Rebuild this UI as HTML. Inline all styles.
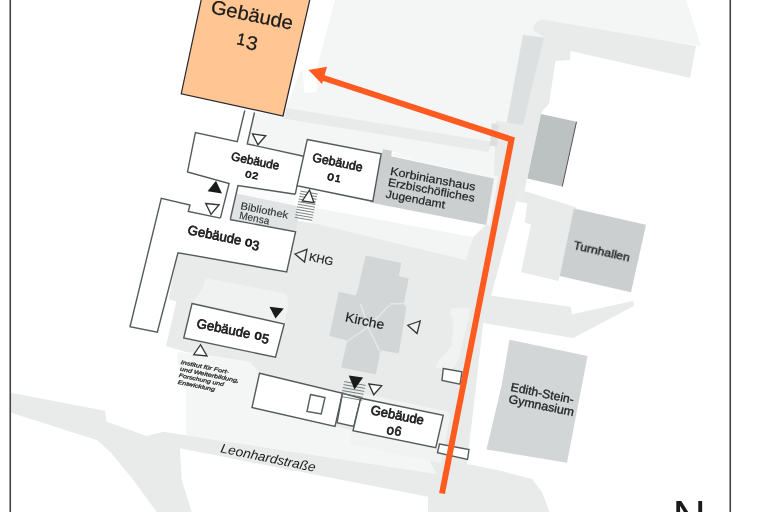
<!DOCTYPE html>
<html lang="de">
<head>
<meta charset="utf-8">
<title>Lageplan Gebäude 13</title>
<style>
html,body{margin:0;padding:0;background:#fff;}
body{width:768px;height:512px;overflow:hidden;}
svg{display:block;}
text{font-family:"Liberation Sans","DejaVu Sans",sans-serif;fill:#1a1a1a;}
.b{font-weight:bold;}
.w{fill:#fff;stroke:#545b5b;stroke-width:1.4;stroke-linejoin:miter;}
.l{fill:none;stroke:#545b5b;stroke-width:1.4;}
.g1{fill:#f4f5f5;}
.g2{fill:#e9ebeb;}
.g3{fill:#cbcfcf;}
.g4{fill:#bcc1c1;}
.tri{fill:#fff;stroke:#333;stroke-width:1.3;stroke-linejoin:miter;}
.trif{fill:#1a1a1a;stroke:none;}
.st{fill:none;stroke:#6a7070;stroke-width:0.9;}
</style>
</head>
<body>
<svg width="768" height="512" viewBox="0 0 768 512">
<rect x="0" y="0" width="768" height="512" fill="#fff"/>

<!-- ===== very light ground ===== -->
<g id="ground1" class="g1">
<!-- upper region -->
<polygon points="335,0 686,0 701,46 560,25 545,60 530,139 514,139 494,178.6 383,149 381,154 307,140 303.7,156 247,144 254.5,112.5 283,115.5 300,72 317,67"/>
<!-- Institut area and strip above road -->
<path d="M180,352 L250,362 L259.5,373.25 L252,407.5 L335,426.5 L353,430.75 L435.75,447.75 L439,460 L437,474 L186,435 L186,390 L177,360 Q176,352 180,352 Z"/>
</g>

<!-- ===== light ground ===== -->
<g id="ground2" class="g2">
<!-- top right L path -->
<path d="M543,19.5 L696,46 L690,78 L570.5,51 L570,60 L555.5,61 L549,104 L543,110 L541,114 L527,178 L524.75,191 L516.5,201 L491.3,295 L483.25,323 L467,464 L437,474 L430,462 L466,262 L473,237 L486,225 L493.9,178.6 L496,121 L506.75,122.5 L523,125 L544.25,37.5 L533,30 Q534,20 543,19.5 Z"/>
<!-- band below Geb13 -->
<polygon points="286.5,108 493,142 488,152 283.5,118.5"/>
<polygon points="491.7,123.3 498.5,124.5 497,146.7 490,145.5" fill="#dcdfdf"/>
<!-- courtyard -->
<polygon points="178,252.7 286.7,272 295.6,231.7 297,221 488,247 441,462 435.75,447.75 353,430.75 335,426.5 252,407.5 259.5,373.25 250,362 186,352 166,346 176.5,301.5 168.7,299.3 177,256"/>
<path d="M356,392 L446,411 Q450.500,412 450,417 L441,463 L350,444 Z" fill="#f1f2f2"/>
<!-- v-light band below Korbinianshaus -->
<polygon points="313.3,207.5 472.7,237 466.3,260.3 311.7,222.7" fill="#f3f4f4"/>
<!-- rounded lighter rect in courtyard -->
<path d="M208,278.5 L283,293 Q287,294 287.5,298 L288,306 L284,324 L192,303.5 L203,288 Q204.500,278 208,278.5 Z" fill="#f0f1f1"/>
<!-- blob right of Kirche -->
<path d="M451.6,308.3 L470,308.3 L468.8,318 L462.4,343.8 L458,361 L451.6,370.6 L435.5,367.4 L438.7,361 L451.6,346 L453.8,320 L449.5,313.7 Z" fill="#f1f2f2"/>
<!-- left of Turnhallen -->
<polygon points="524.75,191 576,207.25 558.5,281 521,272.25 531,224.75 524.75,222.25 527.25,203.5 516.5,201.3"/>
<!-- path toward Gymnasium -->
<polygon points="490.75,295.5 570.75,306.75 572,314.25 633,301 634,306 573.25,338 483.25,323"/>
<!-- Leonhardstrasse -->
<polygon points="11,392.7 105,410.7 106.7,421.7 146.7,436 163.3,431.7 437,474 441,462 467,464 500,470.500 532,479 542,492 549.5,512 428,512 428,496.7 180,448.3 181.7,480 191.7,512 156.7,512 133.3,480 110,451.7 96.7,440 11,412.7"/>
</g>

<!-- ===== gray buildings ===== -->
<polygon points="303,72 311,70.5 317,78 316.5,92 304,93" fill="#fff"/>
<g id="gray" class="g3">
<polygon points="523,35 544.25,37.5 523,125 506.75,122.5" fill="#dde0e0"/>
<polyline points="393,154 496.3,177.3 488.3,225.5" fill="none" stroke="#f5f6f6" stroke-width="3.2" stroke-linejoin="round"/>
<polygon points="383,149.25 391.75,150.8 391.3,156.3 493.9,178.6 486,225 370,202.6"/>
<polygon points="541,114 576.5,121.75 562.25,186.5 527.25,178.5" class="g4"/>
<line x1="576.5" y1="121.75" x2="562.25" y2="186.5" stroke="#555" stroke-width="1"/>
<polygon points="574,208.5 646,224.75 631,292.25 559.75,276"/>
<polygon points="509.5,339.75 587.5,356 567,462.75 486.5,449.5 501.5,386" fill="#d2d6d6"/>
<!-- Kirche -->
<g fill="#d2d6d6">
<polygon points="365.6,255.5 401.25,263 398.75,276.1 408.75,278.6 403.75,303.6 406.25,308.2 398.75,353.4 381.25,350.25 379.4,354 379.4,357.75 375.6,374.4 341.25,367.5 346.9,342.3 346.25,340.25 329.4,335.9 338.75,291.75 355.6,295.5 358.1,288.6"/>
<path d="M360.6,304 L368.1,327.1 L380,351.5 M389,305.5 L368.1,327.1 L346.9,341.5 M403.75,303.6 L390,304" stroke="#e6e8e8" stroke-width="1.5" fill="none"/>
</g>
<!-- Bibliothek box -->
<polygon points="238,185.6 295.3,194.2 295.6,231.7 230.4,218.75" fill="#fbfbfb"/>
<polygon points="236.3,193.5 297,206 298,222 295.6,231.7 230.4,218.75" fill="#e1e4e4"/>
</g>

<!-- ===== white buildings ===== -->
<g id="white">
<!-- Geb 02 -->
<polygon points="229.1,183.5 187.5,171.9 195.4,132.6 237.25,141.75 244.8,110.5 254.5,112.5 247.25,143.9 303.7,156.2 295.3,194.2 238,185.6" fill="#fff"/>
<polyline class="l" points="220.4,218.1 229.1,183.5 187.5,171.9 195.4,132.6 237.25,141.75 244.8,110.5"/>
<polyline class="l" points="254.5,112.5 247.25,143.9 303.7,156.2"/>
<polyline class="l" points="295.3,194.2 238,185.6 230.4,218.75"/>
<!-- Geb 03 -->
<polygon points="220.4,218.1 188.3,211.5 190,205 161.3,198.3 130,326.8 157.3,332.3 178,252.7 286.7,272 295.6,231.7 229.8,219.5" fill="#fff"/>
<polyline class="l" points="220.4,218.1 188.3,211.5 190,205 161.3,198.3 130,326.8 157.3,332.3 178,252.7 286.7,272 295.6,231.7 229.8,219.5"/>
<!-- Geb 01 -->
<polygon class="w" points="307.3,139.5 381.2,153.7 372.8,201.3 297,185.8"/>
<line class="l" x1="297" y1="185.8" x2="295.3" y2="194.2"/>
<!-- Geb 05 -->
<polygon class="w" points="192,303.5 284.25,324 275.5,357.25 183.75,338"/>
<!-- long building -->
<polygon class="w" points="259.5,373.25 342.5,393.25 335,426.5 252,407.5"/>
<polygon class="w" points="310.5,394.5 325,397.5 321.25,414 307,411.5"/>
<polygon class="w" points="342.5,393.25 360.75,398.25 353.75,426.5 337,422.75"/>
<!-- Geb 06 -->
<polygon class="w" points="360.75,398.25 443.25,415.25 435.75,447.75 353,430.75"/>
<!-- small rects -->
<polygon class="w" points="443.25,368.5 462,371.75 460,384.25 442,380.5"/>
<polygon class="w" points="439.5,444 469,449.5 467.5,459.5 437.5,452.75"/>
</g>

<!-- ===== Gebäude 13 ===== -->
<polygon points="201.4,-1 310,-1 283,116 181.25,93.75" fill="#ffc592" stroke="#26262e" stroke-width="1.2"/>

<!-- ===== route ===== -->
<g id="route">
<polyline points="442,493.5 511.5,139.5 322,77.5" fill="none" stroke="#ff5a1f" stroke-width="6" stroke-linejoin="miter"/>
<polygon points="308.5,70 327,66.8 322,84" fill="#ff5a1f"/>
</g>

<!-- ===== symbols ===== -->
<g id="sym">
<path class="st" d="M300.4,191.1L317.7,194.1M299.8,193.7L317.1,196.7M299.3,196.3L316.6,199.3M298.7,199.0L316.0,202.0M298.2,201.6L315.5,204.6M297.6,204.2L314.9,207.2M297.0,206.8L314.3,209.8M296.5,209.4L313.8,212.4M295.9,212.1L313.2,215.1M295.4,214.7L312.7,217.7M294.8,217.3L312.1,220.3"/>
<path class="st" d="M344.2,381.6L365.6,385.4M343.5,384.6L364.9,388.4M342.8,387.6L364.2,391.4M342.2,390.5L363.6,394.3M341.5,393.5L362.9,397.3M340.8,396.5L362.2,400.3"/>
<polygon class="tri" points="252.5,133.9 265.75,135.75 257.9,144.75"/>
<polygon class="trif" points="216,180.8 207.6,191.2 222,193.6"/>
<polygon class="tri" points="205.75,203.5 219.1,204.75 211,214.4"/>
<polygon class="tri" points="309.5,190.1 302.3,200.9 314,202.7"/>
<polygon class="tri" style="fill:#eff0f0" points="295,254 307,249.3 304.5,262"/>
<polygon class="trif" points="269.5,306.75 283.75,308.5 275.5,318.5"/>
<polygon class="tri" points="200.5,344.75 193.75,354.75 207,356"/>
<polygon class="tri" style="fill:#eff0f0" points="407.75,325.25 420.25,321 417,333.5"/>
<polygon class="trif" points="348.75,375.6 363.1,377.5 354.4,389.6"/>
<polygon class="tri" points="368.9,384 381.7,385.7 373.75,394.8"/>
</g>

<!-- ===== labels ===== -->
<g id="labels" style="opacity:0.999">
<text transform="translate(209.9,12.9) rotate(11.7)" fill="#1a1a1a" stroke="#1a1a1a"><tspan x="0.0" y="0.0" font-size="19.5" stroke-width="0.23" textLength="83.5" lengthAdjust="spacingAndGlyphs">Gebäude</tspan> <tspan x="31.8" y="25.1" font-size="16.5" stroke-width="0.49" textLength="8.5" lengthAdjust="spacingAndGlyphs">1</tspan><tspan x="41.6" y="27.7" font-size="19.5" stroke-width="0.23" textLength="11.5" lengthAdjust="spacingAndGlyphs">3</tspan></text>
<text transform="translate(230.6,160.0) rotate(11.7)" fill="#1a1a1a" stroke="#1a1a1a"><tspan x="0.0" y="0.0" font-size="12" stroke-width="0.60" textLength="49.0" lengthAdjust="spacingAndGlyphs">Gebäude</tspan> <tspan x="17.2" y="13.8" font-size="9.3" stroke-width="0.65" textLength="6.2" lengthAdjust="spacingAndGlyphs">0</tspan><tspan x="24.1" y="13.7" font-size="9.3" stroke-width="0.65" textLength="6.2" lengthAdjust="spacingAndGlyphs">2</tspan></text>
<text transform="translate(311.7,161.2) rotate(11.7)" fill="#1a1a1a" stroke="#1a1a1a"><tspan x="0.0" y="0.0" font-size="12.5" stroke-width="0.62" textLength="51.0" lengthAdjust="spacingAndGlyphs">Gebäude</tspan> <tspan x="18.6" y="15.0" font-size="10" stroke-width="0.70" textLength="6.5" lengthAdjust="spacingAndGlyphs">0</tspan><tspan x="26.3" y="15.0" font-size="10" stroke-width="0.70" textLength="5.5" lengthAdjust="spacingAndGlyphs">1</tspan></text>
<text transform="translate(187.1,233.9) rotate(11.7)" fill="#1a1a1a" stroke="#1a1a1a"><tspan x="0.0" y="0.0" font-size="13.3" stroke-width="0.67" textLength="54.5" lengthAdjust="spacingAndGlyphs">Gebäude</tspan> <tspan x="58.6" y="-0.2" font-size="10.4" stroke-width="0.83" textLength="7.0" lengthAdjust="spacingAndGlyphs">0</tspan><tspan x="65.9" y="1.9" font-size="13.3" stroke-width="0.67" textLength="7.2" lengthAdjust="spacingAndGlyphs">3</tspan></text>
<text transform="translate(196.1,327.5) rotate(11.7)" fill="#1a1a1a" stroke="#1a1a1a"><tspan x="0.0" y="0.0" font-size="13.3" stroke-width="0.67" textLength="54.5" lengthAdjust="spacingAndGlyphs">Gebäude</tspan> <tspan x="59.0" y="-0.7" font-size="10.4" stroke-width="0.83" textLength="7.0" lengthAdjust="spacingAndGlyphs">0</tspan><tspan x="66.5" y="1.5" font-size="13.3" stroke-width="0.67" textLength="7.2" lengthAdjust="spacingAndGlyphs">5</tspan></text>
<text transform="translate(370.1,413.9) rotate(11.7)" fill="#1a1a1a" stroke="#1a1a1a"><tspan x="0.0" y="0.0" font-size="13.2" stroke-width="0.66" textLength="54.0" lengthAdjust="spacingAndGlyphs">Gebäude</tspan> <tspan x="19.7" y="16.3" font-size="10.8" stroke-width="0.65" textLength="7.2" lengthAdjust="spacingAndGlyphs">0</tspan><tspan x="27.3" y="15.7" font-size="13" stroke-width="0.65" textLength="7.0" lengthAdjust="spacingAndGlyphs">6</tspan></text>
<text transform="translate(240.0,208.9) rotate(11.7)" font-size="10.3" fill="#6d7272" stroke="#6d7272" stroke-width="0.21" textLength="48.5" lengthAdjust="spacingAndGlyphs">Bibliothek</text>
<text transform="translate(238.8,218.4) rotate(11.7)" font-size="10.3" fill="#6d7272" stroke="#6d7272" stroke-width="0.21" textLength="30.5" lengthAdjust="spacingAndGlyphs">Mensa</text>
<text transform="translate(308.4,260.5) rotate(11.7)" font-size="11.3" fill="#333" stroke="#333" stroke-width="0.23" textLength="24.5" lengthAdjust="spacingAndGlyphs">KHG</text>
<text transform="translate(344.6,321.3) rotate(11.7)" font-size="13.3" fill="#333" stroke="#333" stroke-width="0.20" textLength="39.5" lengthAdjust="spacingAndGlyphs">Kirche</text>
<text transform="translate(389.7,174.8) rotate(10.6)" font-size="11.2" fill="#333" stroke="#333" stroke-width="0.22" textLength="86.5" lengthAdjust="spacingAndGlyphs">Korbinianshaus</text>
<text transform="translate(387.4,185.7) rotate(10.6)" font-size="11.2" fill="#333" stroke="#333" stroke-width="0.22" textLength="88.0" lengthAdjust="spacingAndGlyphs">Erzbischöfliches</text>
<text transform="translate(385.3,197.5) rotate(10.6)" font-size="11.2" fill="#333" stroke="#333" stroke-width="0.22" textLength="60.0" lengthAdjust="spacingAndGlyphs">Jugendamt</text>
<text transform="translate(572.9,248.8) rotate(12.8)" font-size="11.8" fill="#222" stroke="#222" stroke-width="0.35" textLength="57.5" lengthAdjust="spacingAndGlyphs">Turnhallen</text>
<text transform="translate(510.1,390.7) rotate(11.7)" font-size="12" fill="#333" stroke="#333" stroke-width="0.36" textLength="64.3" lengthAdjust="spacingAndGlyphs">Edith-Stein-</text>
<text transform="translate(508.1,402.7) rotate(11.7)" font-size="12" fill="#333" stroke="#333" stroke-width="0.36" textLength="66.5" lengthAdjust="spacingAndGlyphs">Gymnasium</text>
<text transform="translate(220.1,452.3) rotate(11.7)" font-size="13" fill="#333" font-style="italic" textLength="96.5" lengthAdjust="spacingAndGlyphs">Leonhardstraße</text>
<text transform="translate(180.5,363.9) rotate(11.7)" font-size="5.6" fill="#333" stroke="#333" stroke-width="0.28" font-style="italic" textLength="49.0" lengthAdjust="spacingAndGlyphs">Institut für Fort-</text>
<text transform="translate(179.8,370.6) rotate(11.7)" font-size="5.6" fill="#333" stroke="#333" stroke-width="0.28" font-style="italic" textLength="60.0" lengthAdjust="spacingAndGlyphs">und Weiterbildung,</text>
<text transform="translate(178.6,377.0) rotate(11.7)" font-size="5.6" fill="#333" stroke="#333" stroke-width="0.28" font-style="italic" textLength="46.0" lengthAdjust="spacingAndGlyphs">Forschung und</text>
<text transform="translate(177.4,383.7) rotate(11.7)" font-size="5.6" fill="#333" stroke="#333" stroke-width="0.28" font-style="italic" textLength="38.0" lengthAdjust="spacingAndGlyphs">Entwicklung</text>
</g>

<text x="672.6" y="533" font-size="46.3" fill="#1a1a1a">N</text>
<!-- ===== frame ===== -->
<line x1="10.25" y1="0" x2="10.25" y2="512" stroke="#444" stroke-width="1.6"/>
<line x1="730.25" y1="0" x2="730.25" y2="512" stroke="#444" stroke-width="1.6"/>
</svg>
</body>
</html>
